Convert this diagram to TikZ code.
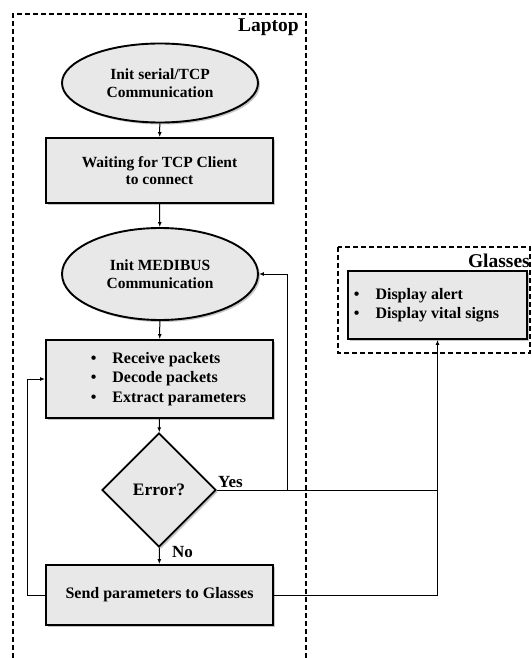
\documentclass[tikz,border=0pt]{standalone}
\usepackage{fontspec}
\setmainfont{Liberation Serif}
\usetikzlibrary{shapes.geometric,shadows,arrows.meta}

\tikzset{
  block/.style={draw, line width=1.9pt, fill=gray!18,
    drop shadow={opacity=0.45, shadow xshift=2pt, shadow yshift=-2pt},
    align=center, font=\bfseries\fontsize{15.5}{17.5}\selectfont},
  procbox/.style={block, rectangle, minimum width=227pt},
  startbox/.style={block, ellipse, minimum width=196pt},
  decision/.style={block, diamond, minimum width=114pt, minimum height=114pt, inner sep=0pt,
    font=\bfseries\fontsize{17.5}{20}\selectfont},
  frame/.style={line width=1.2pt, dash pattern=on 5pt off 3pt},
  link/.style={line width=1pt},
  title/.style={font=\bfseries\fontsize{19.5}{22}\selectfont, inner sep=0pt},
  answer/.style={font=\bfseries\fontsize{17}{19}\selectfont, inner sep=0pt},
}
\newcommand{\itemlist}[1]{{\fontsize{16}{17}\selectfont\renewcommand{\arraystretch}{1.13}%
  \begin{tabular}{@{}l@{\hspace{16pt}}l@{}}#1\end{tabular}}}

\begin{document}
\begin{tikzpicture}[x=1pt, y=-1pt, >={Latex[length=5pt,width=4pt]}]
  \useasboundingbox (0,0) rectangle (532,658);
  % Rahmen
  \draw[frame] (13,658) -- (13,14) -- (306,14) -- (306,658);
  \node[title, anchor=base east] (laptop) at (299,32) {Laptop};
  \draw[frame] (338,247) rectangle (530,353);
  \node[title, anchor=base east] (glasses) at (530,267) {Glasses};
  % Bloecke
  \node[startbox, minimum height=79pt] (init1) at (160,83) {Init serial/TCP\\Communication};
  \node[procbox, minimum height=65pt] (wait) at (159.5,170.5) {Waiting for TCP Client\\to connect};
  \node[startbox, minimum height=92pt] (init2) at (160,274) {Init MEDIBUS\\Communication};
  \node[procbox, minimum height=78pt] (recv) at (159.5,379)
    {\hspace{18pt}\itemlist{\textbullet & Receive packets\\ \textbullet & Decode packets\\ \textbullet & Extract parameters}};
  \node[decision] (err) at (159,490) {Error?};
  \node[procbox, minimum height=60pt, font=\bfseries\fontsize{16}{18}\selectfont] (send) at (159.5,595)
    {Send parameters to Glasses};
  \node[procbox, minimum width=179pt, minimum height=68pt] (disp) at (437.5,305)
    {\itemlist{\textbullet & Display alert\\ \textbullet & Display vital signs}\hspace{22pt}};
  % Verbindungen
  \draw[link,->] (init1) -- (wait);
  \draw[link,->] (wait) -- (init2);
  \draw[link,->] (init2) -- (recv);
  \draw[link,->] (recv) -- (err);
  \draw[link,->] (err) -- (send);
  \node[answer, anchor=base west] (no) at (172,557) {No};
  \node[answer, anchor=base west] (yes) at (218,487) {Yes};
  \coordinate (back) at (287,490);
  \coordinate (join) at (437.5,595);
  \draw[link] (err.east) -- (err.east -| join);
  \draw[link,->] (back) |- (init2.east);
  \draw[link,->] (send.east) -- (join) -- (disp.south);
  \draw[link,->] (send.west) -- ++(-18,0) |- (recv.west);
\end{tikzpicture}
\end{document}
